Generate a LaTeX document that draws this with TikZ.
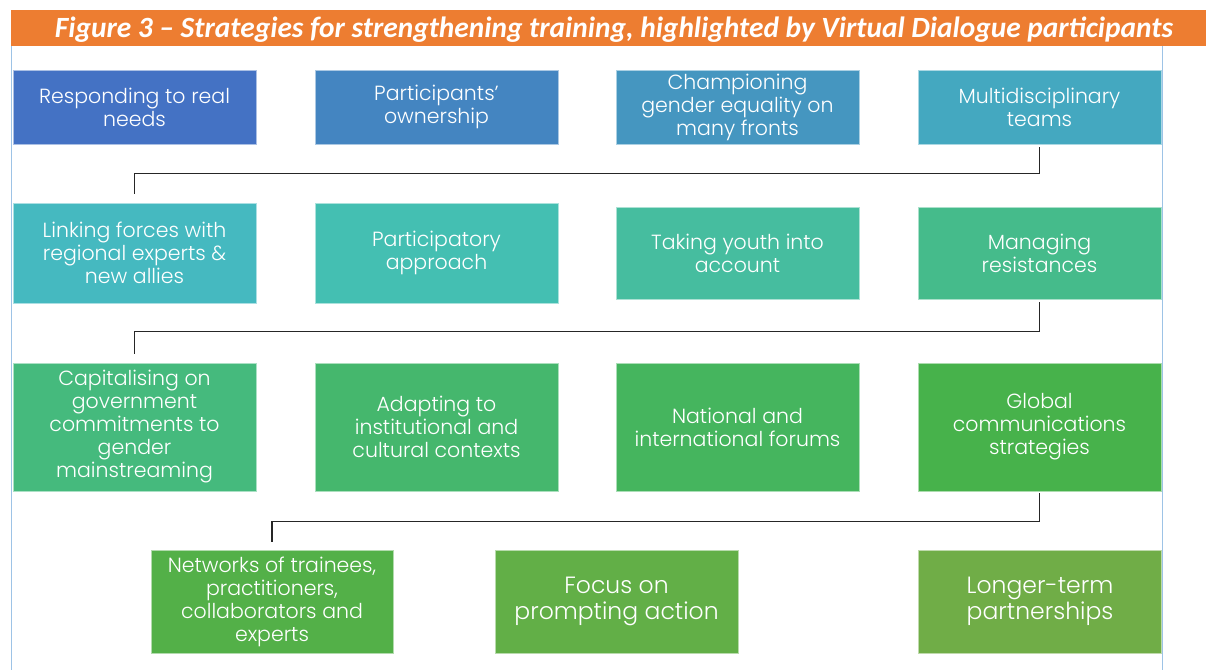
\documentclass[tikz,border=0pt]{standalone}
\usepackage{fontspec}
\setmainfont{Poppins Light}
\newfontfamily\titlefont{Carlito}
\definecolor{orangebar}{HTML}{ED7D31}
\definecolor{framecol}{HTML}{9DC3E6}
\definecolor{c1}{HTML}{4472C4}
\definecolor{c2}{HTML}{4485C1}
\definecolor{c3}{HTML}{4596C0}
\definecolor{c4}{HTML}{44A8C0}
\definecolor{c5}{HTML}{45B9C0}
\definecolor{c6}{HTML}{44BFB2}
\definecolor{c7}{HTML}{46BD9F}
\definecolor{c8}{HTML}{45BB8B}
\definecolor{c9}{HTML}{45BA7D}
\definecolor{c10}{HTML}{45B76D}
\definecolor{c11}{HTML}{45B55E}
\definecolor{c12}{HTML}{47B24B}
\definecolor{c13}{HTML}{53B048}
\definecolor{c14}{HTML}{62AF47}
\definecolor{c15}{HTML}{70AD47}
\begin{document}
\begin{tikzpicture}[x=1pt,y=-1pt,
  box/.style={rectangle, draw=white!55!#1, fill=#1, line width=0.6pt, text=white,
    align=center, inner sep=0pt, minimum width=243pt,
    font=\fontsize{20.5}{23}\selectfont},
  bigbox/.style={box=#1, font=\fontsize{23.5}{26}\selectfont},
  conn/.style={draw=black!85, line width=1.1pt}]
\useasboundingbox (0,0) rectangle (1206,669);
\fill[orangebar] (11,10) rectangle (1206,46);
\draw[framecol, line width=1pt] (11,46) -- (11,680);
\draw[framecol, line width=1pt] (1162,46) -- (1162,680);
\node[text=white, anchor=base, inner sep=0pt, font=\titlefont\bfseries\itshape] (title) at (614,37.5)
  {\resizebox{1118pt}{!}{Figure 3 – Strategies for strengthening training, highlighted by Virtual Dialogue participants}};
% row 1
\node[box=c1, minimum height=74pt] (b1) at (134.5,107) {Responding to real\\needs};
\node[box=c2, minimum height=74pt] (b2) at (436.5,107) {Participants'\\ownership};
\node[box=c3, minimum height=74pt] (b3) at (737.5,107) {Championing\\gender equality on\\many fronts};
\node[box=c4, minimum height=74pt] (b4) at (1039.5,107) {Multidisciplinary\\teams};
% row 2
\node[box=c5, minimum height=100pt] (b5) at (134.5,253) {Linking forces with\\regional experts \&\\new allies};
\node[box=c6, minimum height=100pt] (b6) at (436.5,253) {Participatory\\approach};
\node[box=c7, minimum height=92pt] (b7) at (737.5,253) {Taking youth into\\account};
\node[box=c8, minimum height=92pt] (b8) at (1039.5,253) {Managing\\resistances};
% row 3
\node[box=c9, minimum height=128pt] (b9) at (134.5,427) {Capitalising on\\government\\commitments to\\gender\\mainstreaming};
\node[box=c10, minimum height=128pt] (b10) at (436.5,427) {Adapting to\\institutional and\\cultural contexts};
\node[box=c11, minimum height=128pt] (b11) at (737.5,427) {National and\\international forums};
\node[box=c12, minimum height=128pt] (b12) at (1039.5,427) {Global\\communications\\strategies};
% row 4
\node[box=c13, minimum height=103pt, minimum width=242pt] (b13) at (272,601.5) {Networks of trainees,\\practitioners,\\collaborators and\\experts};
\node[bigbox=c14, minimum height=103pt] (b14) at (616.5,601.5) {Focus on\\prompting action};
\node[bigbox=c15, minimum height=103pt] (b15) at (1040,601.5) {Longer-term\\partnerships};
% connectors
\draw[conn] ([yshift=-3pt]b4.south) -- ++(0,26) -| ([yshift=9pt]b5.north);
\draw[conn] ([yshift=-3pt]b8.south) -- ++(0,29) -| ([yshift=9pt]b9.north);
\draw[conn] ([yshift=-2pt]b12.south) -- ++(0,28) -| ([yshift=8pt]b13.north);
\end{tikzpicture}
\end{document}
